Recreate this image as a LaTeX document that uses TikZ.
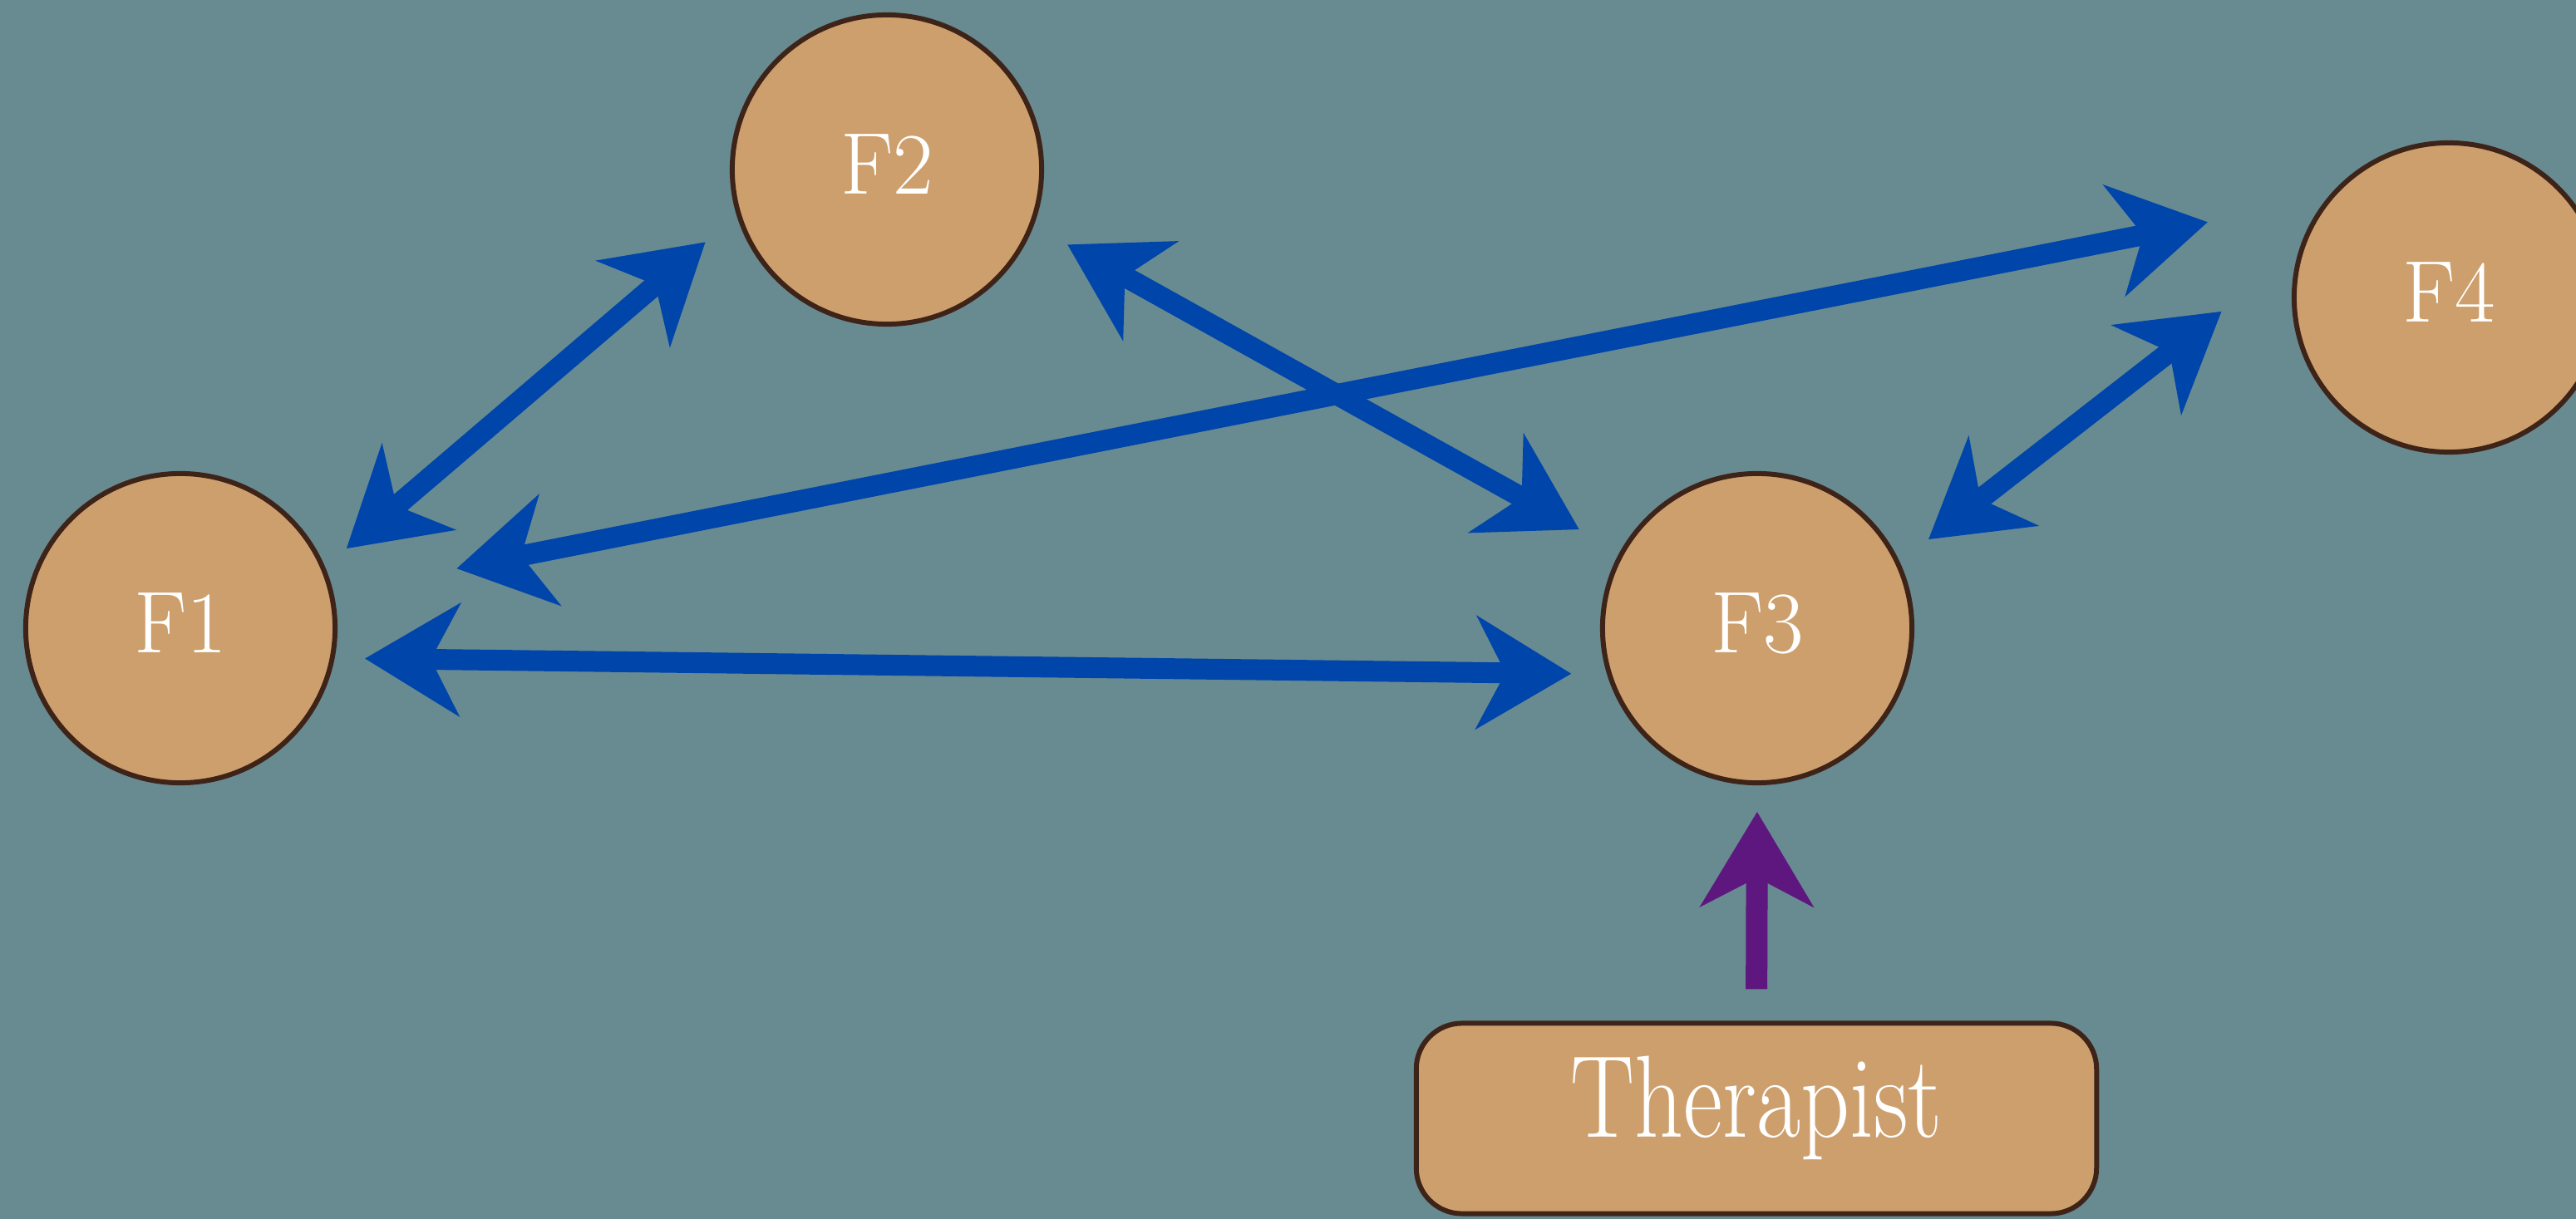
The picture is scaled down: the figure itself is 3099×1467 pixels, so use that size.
\documentclass[tikz,border=0pt]{standalone}
\usepackage{graphicx}
\usetikzlibrary{arrows.meta}

\definecolor{slate}{RGB}{104,138,145}
\definecolor{kraft}{RGB}{205,159,109}
\definecolor{rim}{RGB}{62,36,24}
\definecolor{chalkblue}{RGB}{0,69,170}
\definecolor{chalkpurple}{RGB}{94,23,126}

\begin{document}
\begin{tikzpicture}[x=0.01cm, y=-0.01cm,
  family/.style={circle, minimum size=3.72cm, inner sep=0pt,
    fill=kraft, draw=rim, line width=1.7pt, text=white,
    font=\fontsize{30}{36}\selectfont, text height=21pt, text depth=4pt},
  plate/.style={rectangle, rounded corners=0.55cm, minimum width=8.18cm,
    minimum height=2.29cm, inner sep=0pt, fill=kraft, draw=rim,
    line width=1.7pt, text=white, font=\fontsize{40}{48}\selectfont,
    text height=25pt, text depth=12pt},
  head/.tip={Stealth[length=1.15cm, width=1.38cm, inset=0.36cm, line width=0pt]},
  link/.style={draw=chalkblue, line width=0.25cm, head-head},
  nudge/.style={draw=chalkpurple, line width=0.26cm, -head}]

  % canvas
  \useasboundingbox (0,0) rectangle (3099,1467);
  \clip (0,0) rectangle (3099,1467);
  \fill[slate] (0,0) rectangle (3099,1467);

  % family members and therapist
  \node[family] (F1) at (217,756)  {F1};
  \node[family] (F2) at (1067,204) {F2};
  \node[family] (F3) at (2114,756) {F3};
  \node[family] (F4) at (2946,358) {F4};
  \node[plate]  (T)  at (2113,1346) {\scalebox{0.82}[1]{Therapist}};

  % two-way relations between the family members
  \draw[link, shorten <=0.34cm,  shorten >=0.495cm] (F1.23.7)  -- (F2.197.6);
  \draw[link, shorten <=1.51cm,  shorten >=1.46cm]  (F1.13.7)  -- (F4.141.3);
  \draw[link, shorten <=0.466cm, shorten >=0.56cm]  (F2.339.8) -- (F3.151);
  \draw[link, shorten <=0.365cm, shorten >=0.43cm]  (F1.349.2) -- (F3.197.7);
  \draw[link, shorten <=0.44cm,  shorten >=1.175cm] (F3.25)    -- (F4.163.4);

  % therapist joins through F3
  \draw[nudge, shorten <=0.38cm, shorten >=0.32cm] (T.north) -- (F3.south);
\end{tikzpicture}
\end{document}
